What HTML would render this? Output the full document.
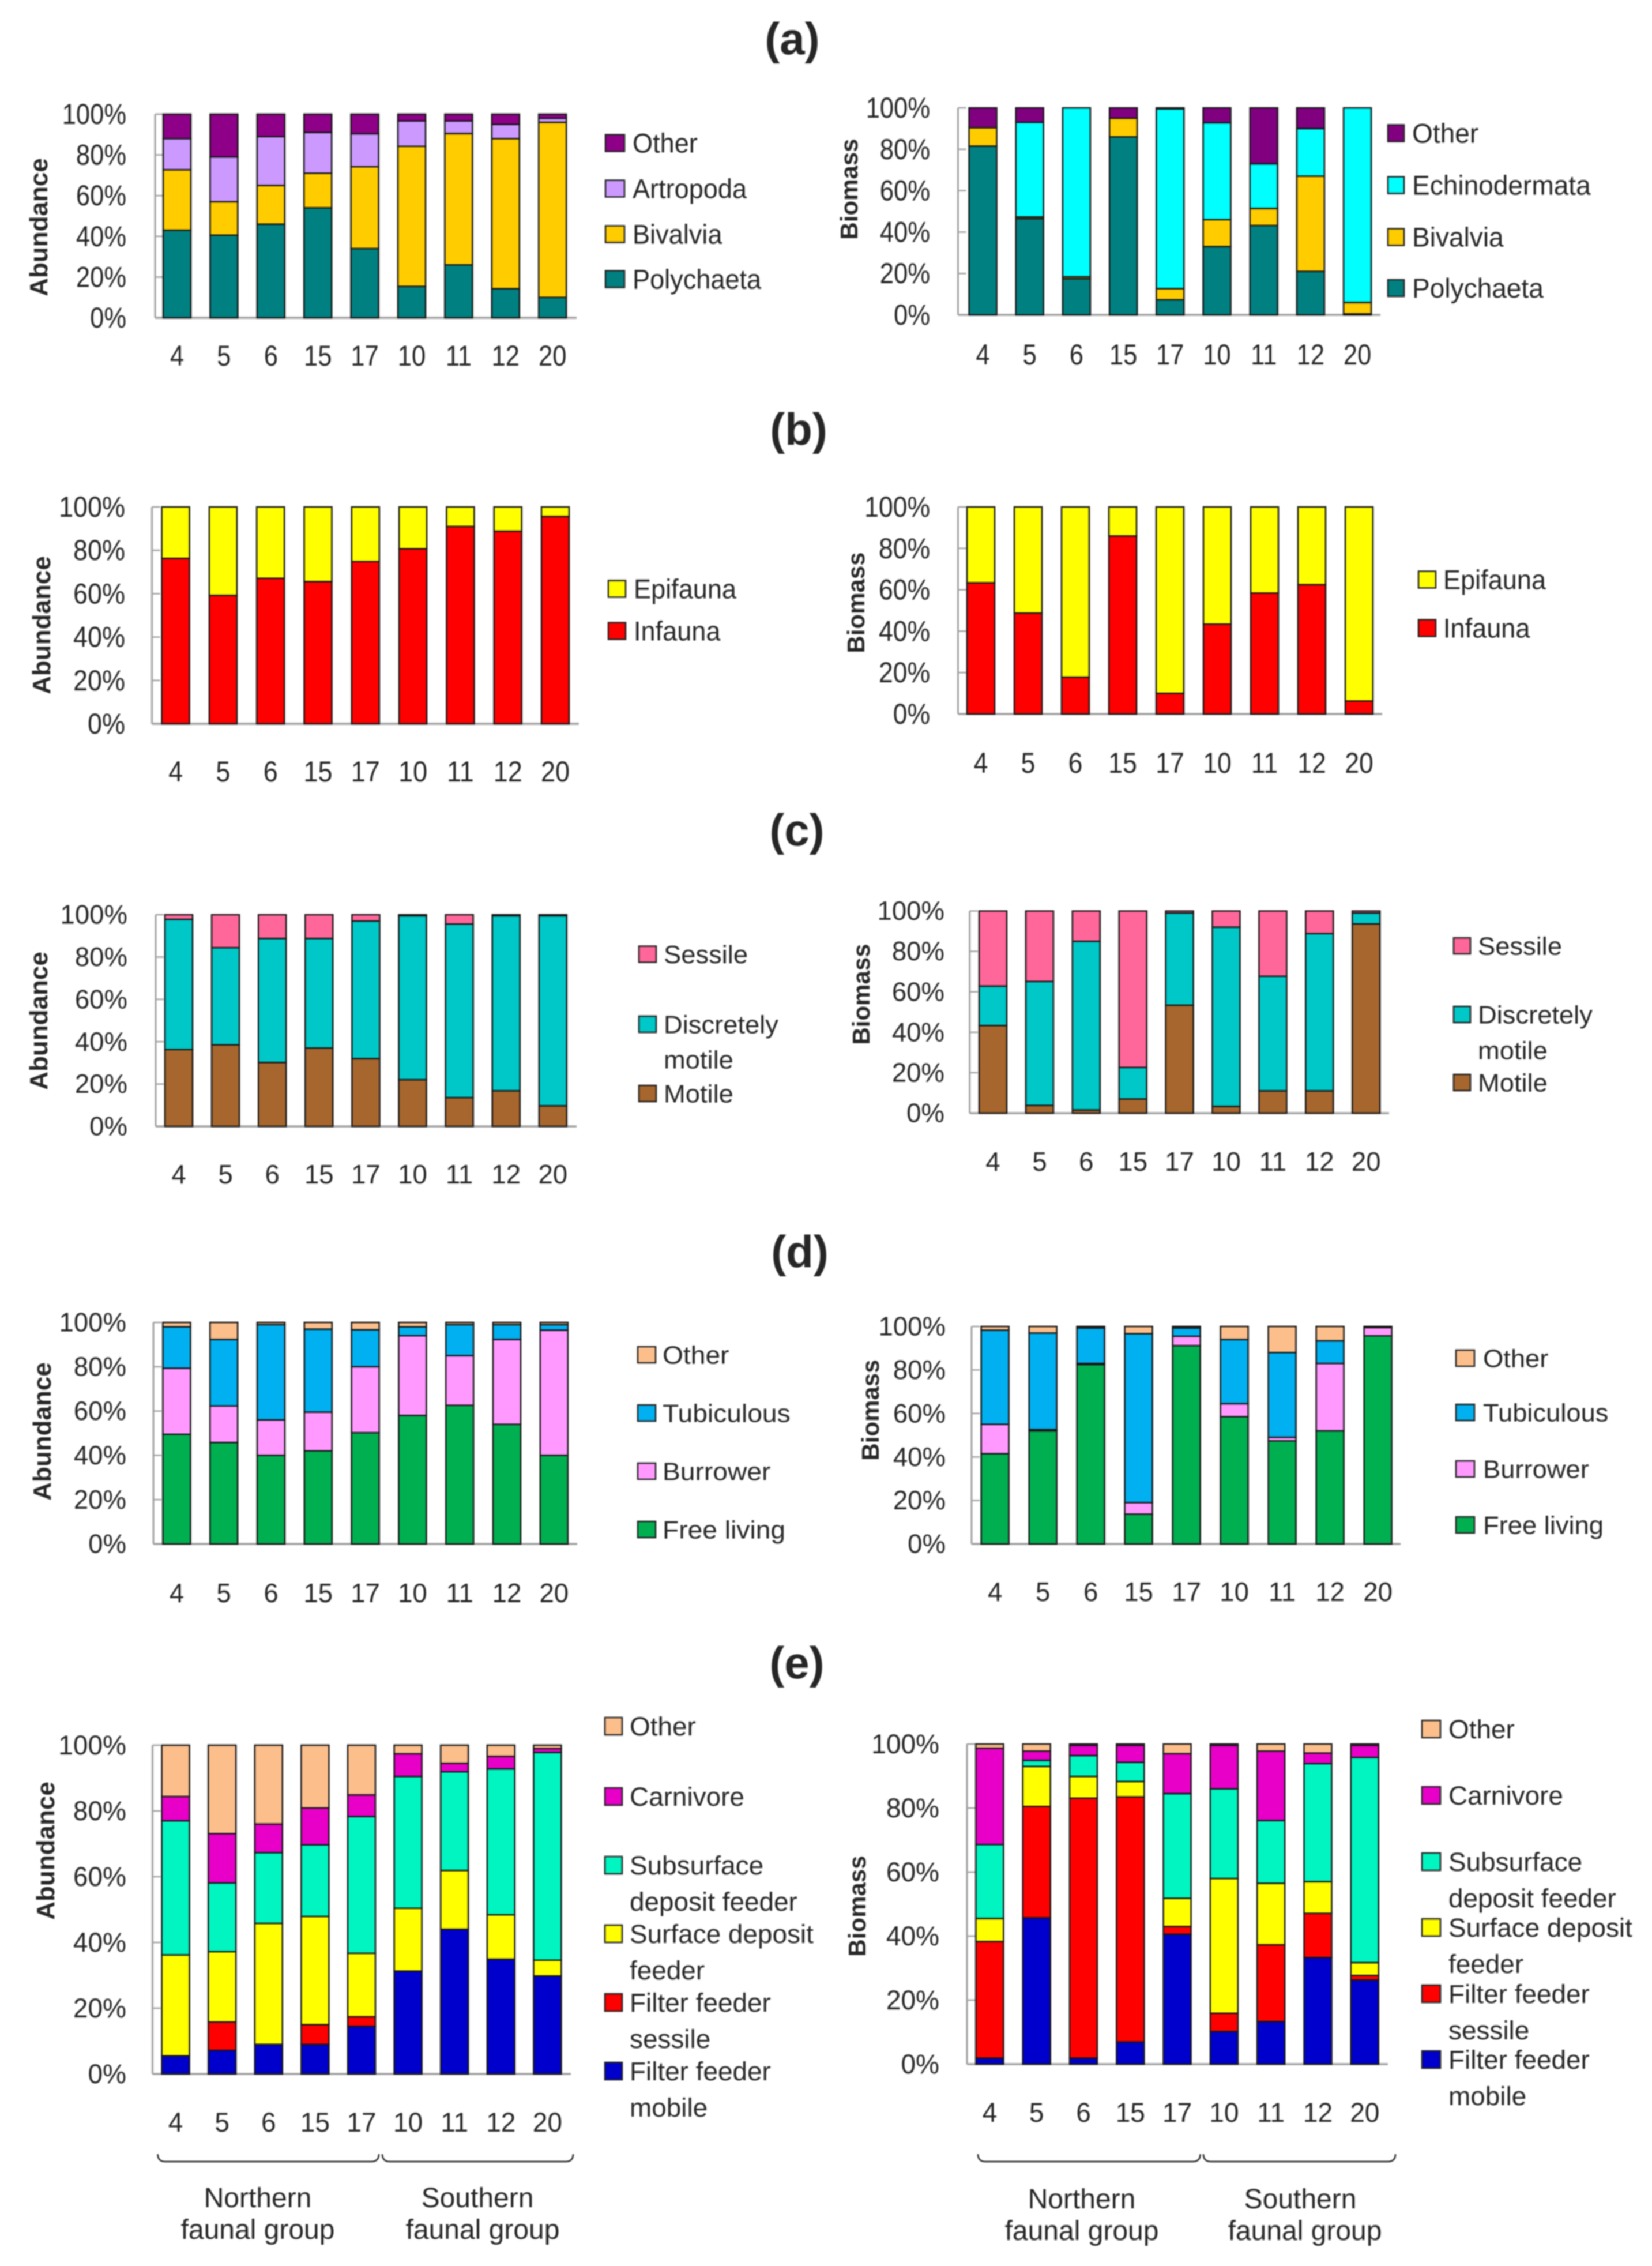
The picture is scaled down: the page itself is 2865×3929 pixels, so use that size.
<!DOCTYPE html>
<html lang="en">
<head>
<meta charset="utf-8">
<title>Faunal composition by station</title>
<style>
html,body{margin:0;padding:0;background:#fff;width:2865px;height:3929px;overflow:hidden}
svg{display:block;filter:blur(1px)}
text{font-family:"Liberation Sans",sans-serif;fill:#262626}
</style>
</head>
<body>
<svg id="figure" xmlns="http://www.w3.org/2000/svg" width="2865" height="3929" viewBox="0 0 2865 3929"></svg>
<script>
const stations = ['4','5','6','15','17','10','11','12','20'];
const percentTicks = [0,20,40,60,80,100];

const aAbundancePolychaeta = [43,40.6,46,54,34,15.4,26,14.3,10];
const aAbundanceBivalvia = [29.7,16.4,19,17,40.2,68.8,64.5,73.7,86];
const aAbundanceArtropoda = [15.3,22,24,20,16.2,12.5,6.2,7,2];
const aAbundanceOther = [12,21,11,9,9.6,3.3,3.3,5,2];

const aBiomassPolychaeta = [81.5,46.5,17.5,86,7.3,33,43.2,21,0.5];
const aBiomassBivalvia = [8.9,0.8,0.9,9,5.4,13,8.2,46,5.5];
const aBiomassEchinodermata = [0,45.7,81.6,0,86.8,46.8,21.6,23,94];
const aBiomassOther = [9.6,7,0,5,0.5,7.2,27,10,0];

const bAbundanceInfauna = [76.3,59.2,67.1,65.6,74.8,80.7,91,88.8,95.6];
const bAbundanceEpifauna = [23.7,40.8,32.9,34.4,25.2,19.3,9,11.2,4.4];

const bBiomassInfauna = [63.4,48.7,17.8,86,10,43.4,58.4,62.5,6.3];
const bBiomassEpifauna = [36.6,51.3,82.2,14,90,56.6,41.6,37.5,93.7];

const cAbundanceMotile = [36.3,38.5,30.2,37,32,22,13.6,16.8,9.7];
const cAbundanceDiscrete = [61.5,45.9,58.6,51.8,65,77.5,82,82.7,89.8];
const cAbundanceSessile = [2.2,15.6,11.2,11.2,3,0.5,4.4,0.5,0.5];

const cBiomassMotile = [43.3,3.8,1.5,7,53.4,3.3,11,11,93.6];
const cBiomassDiscrete = [19.5,61.3,83.5,15.6,45.6,88.7,56.7,77.8,5.4];
const cBiomassSessile = [37.2,34.9,15,77.4,1,8,32.3,11.2,1];

const dAbundanceFree = [49.5,45.8,40,42,50.2,58,62.6,54,40];
const dAbundanceBurrower = [29.8,16.5,16,17.5,29.8,36,22.4,38.3,56.5];
const dAbundanceTubiculous = [18.7,30,43,37.5,16.7,4,14,6.7,2.5];
const dAbundanceOther = [2,7.7,1,3,3.3,2,1,1,1];

const dBiomassFree = [41.5,52,82.5,13.7,91.2,58.5,47.4,52,95.7];
const dBiomassBurrower = [13.5,0.6,0.5,5.3,4.3,6,1.6,31,3.8];
const dBiomassTubiculous = [43.3,44.4,16.3,77.7,3.8,29.5,39,10.4,0];
const dBiomassOther = [1.7,3,0.7,3.3,0.7,6,12,6.6,0.5];

const eAbundanceMobile = [5.5,7.2,9,9,14.5,31.3,44,34.9,29.8];
const eAbundanceSessile = [0,8.6,0,6,2.9,0,0,0,0];
const eAbundanceSurface = [30.7,21.4,36.8,32.9,19.3,19.1,17.9,13.5,4.8];
const eAbundanceSubsurface = [40.8,20.9,21.5,21.8,41.6,40.1,30,44.4,63.2];
const eAbundanceCarnivore = [7.4,15,8.7,11.2,6.6,6.9,2.6,3.8,1.2];
const eAbundanceOther = [15.6,26.9,24,19.1,15.1,2.6,5.5,3.4,1];

const eBiomassMobile = [1.9,45.7,1.9,6.9,40.6,10.2,13.3,33.3,26.3];
const eBiomassSessile = [36.4,34.8,81.2,76.6,2.4,5.7,24,13.8,1.4];
const eBiomassSurface = [7.2,12.5,6.8,4.8,8.8,42.1,19.2,9.9,4];
const eBiomassSubsurface = [23.1,1.9,6.5,6,32.7,28,19.6,36.9,64.1];
const eBiomassCarnivore = [30.1,2.9,3.2,5.3,12.5,13.6,21.7,3.3,3.8];
const eBiomassOther = [1.3,2.2,0.4,0.4,3,0.4,2.2,2.8,0.4];

const C = {teal:'#008080',gold:'#FFCC00',lilac:'#CC99FF',plum:'#8F0088',cyan:'#00FFFF',red:'#FF0000',yellow:'#FFFF00',
  pink:'#FF6699',disc:'#00C8C8',brown:'#A6662D',green:'#00B050',orchid:'#FF99FF',sky:'#00B0F0',peach:'#FCBF8C',
  navy:'#0000CC',mint:'#00F5C0',magenta:'#E800C8'};

const panels = [
 {id:'a-abundance',title:'Abundance',l:269,r:1000,t:198,b:551,x0:307,step:81.4,tickR:219,xBase:634,tx:82,ty:394,tf:44,nf:50,ns:.87,lf:47,ls:.96,swX:1050,swW:33,swH:29,txtX:1097,
  series:[['Polychaeta',aAbundancePolychaeta,C.teal,484],['Bivalvia',aAbundanceBivalvia,C.gold,406],['Artropoda',aAbundanceArtropoda,C.lilac,327],['Other',aAbundanceOther,C.plum,248]]},
 {id:'a-biomass',title:'Biomass',l:1661.5,r:2394,t:187,b:546,x0:1704.5,step:81.2,tickR:1613,xBase:632,tx:1487,ty:328,tf:42,nf:50,ns:.87,lf:47,ls:.98,swX:2407,swW:28,swH:29,txtX:2449,
  series:[['Polychaeta',aBiomassPolychaeta,C.teal,499.5],['Bivalvia',aBiomassBivalvia,C.gold,411],['Echinodermata',aBiomassEchinodermata,C.cyan,321],['Other',aBiomassOther,'#800080',231]]},
 {id:'b-abundance',title:'Abundance',l:263.6,r:1004,t:879,b:1255,x0:304.6,step:82.3,tickR:217,xBase:1355,tx:87,ty:1084,tf:44,nf:50,ns:.9,lf:47,ls:.96,swX:1055,swW:30,swH:29,txtX:1099,
  series:[['Infauna',bAbundanceInfauna,C.red,1094],['Epifauna',bAbundanceEpifauna,C.yellow,1021]]},
 {id:'b-biomass',title:'Biomass',l:1661.5,r:2397,t:879,b:1238,x0:1701,step:82,tickR:1613,xBase:1340,tx:1499,ty:1045,tf:42,nf:50,ns:.89,lf:47,ls:.96,swX:2460,swW:30,swH:29,txtX:2503,
  series:[['Infauna',bBiomassInfauna,C.red,1089],['Epifauna',bBiomassEpifauna,C.yellow,1005]]},
 {id:'c-abundance',title:'Abundance',l:270,r:1000,t:1586,b:1953,x0:310,step:81.1,tickR:221,xBase:2052,tx:82,ty:1770,tf:44,nf:46,ns:.99,lf:44,ls:1.03,swX:1108,swW:30,swH:28,txtX:1151,
  series:[['Motile',cAbundanceMotile,C.brown,1896],[['Discretely','motile'],cAbundanceDiscrete,C.disc,1776,1837],['Sessile',cAbundanceSessile,C.pink,1654.5]]},
 {id:'c-biomass',title:'Biomass',l:1681.7,r:2409,t:1579.5,b:1930,x0:1722,step:80.9,tickR:1638,xBase:2030,tx:1508,ty:1724,tf:42,nf:46,ns:.99,lf:44,ls:1.03,swX:2521,swW:29,swH:28,txtX:2563,
  series:[['Motile',cBiomassMotile,C.brown,1877],[['Discretely','motile'],cBiomassDiscrete,C.disc,1759,1821],['Sessile',cBiomassSessile,C.pink,1640]]},
 {id:'d-abundance',title:'Abundance',l:266,r:1001,t:2293,b:2677,x0:306.4,step:81.8,tickR:219,xBase:2778,tx:88,ty:2482,tf:44,nf:46,ns:.99,lf:44,ls:1.05,swX:1106,swW:31,swH:28,txtX:1149,
  series:[['Free living',dAbundanceFree,C.green,2652],['Burrower',dAbundanceBurrower,C.orchid,2551],['Tubiculous',dAbundanceTubiculous,C.sky,2450],['Other',dAbundanceOther,C.peach,2349]]},
 {id:'d-biomass',title:'Biomass',l:1685,r:2429,t:2300,b:2677,x0:1725.6,step:83,tickR:1640,xBase:2776,tx:1524,ty:2445,tf:42,nf:46,ns:.99,lf:44,ls:1.03,swX:2525,swW:32,swH:28,txtX:2572,
  series:[['Free living',dBiomassFree,C.green,2644],['Burrower',dBiomassBurrower,C.orchid,2547],['Tubiculous',dBiomassTubiculous,C.sky,2449],['Other',dBiomassOther,C.peach,2355]]},
 {id:'e-abundance',title:'Abundance',l:264.5,r:990,t:3026,b:3596,x0:304.6,step:80.6,tickR:219,xBase:3696,tx:94,ty:3209,tf:44,nf:47,ns:.98,lf:45,ls:1.02,swX:1049,swW:30,swH:30,txtX:1092,
  series:[[['Filter feeder','mobile'],eAbundanceMobile,C.navy,3591,3654],[['Filter feeder','sessile'],eAbundanceSessile,C.red,3472,3535],[['Surface deposit','feeder'],eAbundanceSurface,C.yellow,3353,3416],[['Subsurface','deposit feeder'],eAbundanceSubsurface,C.mint,3234,3297],['Carnivore',eAbundanceCarnivore,C.magenta,3115],['Other',eAbundanceOther,C.peach,2993]]},
 {id:'e-biomass',title:'Biomass',l:1677,r:2407,t:3024,b:3579,x0:1716.4,step:81.3,tickR:1629,xBase:3679,tx:1501,ty:3305,tf:42,nf:47,ns:.98,lf:45,ls:1.02,swX:2466,swW:32,swH:30,txtX:2512,
  series:[[['Filter feeder','mobile'],eBiomassMobile,C.navy,3571,3634],[['Filter feeder','sessile'],eBiomassSessile,C.red,3457,3520],[['Surface deposit','feeder'],eBiomassSurface,C.yellow,3342,3405],[['Subsurface','deposit feeder'],eBiomassSubsurface,C.mint,3228,3291],['Carnivore',eBiomassCarnivore,C.magenta,3113],['Other',eBiomassOther,C.peach,2998]]}
];

const panelLetters = [['(a)',1374,94],['(b)',1385,771],['(c)',1382,1466],['(d)',1387,2197],['(e)',1382,2910]];

const braces = [
 ['northern-brace-left',273.6,657],['southern-brace-left',663,994],
 ['northern-brace-right',1696,2081.6],['southern-brace-right',2087,2420]
];
const groupLabels = [
 ['northern-label-left','Northern',447,3827],['northern-sublabel-left','faunal group',447,3882],
 ['southern-label-left','Southern',828,3827],['southern-sublabel-left','faunal group',837,3882],
 ['northern-label-right','Northern',1876,3829],['northern-sublabel-right','faunal group',1876,3884],
 ['southern-label-right','Southern',2255,3829],['southern-sublabel-right','faunal group',2263,3884]
];

const NS = 'http://www.w3.org/2000/svg';
const svg = document.getElementById('figure');

function make(tag, parent, name) {
  const el = document.createElementNS(NS, tag);
  
  
  parent.appendChild(el);
  return el;
}
function label(parent, name, str, x, y, size, anchor, sx, bold) {
  const t = make('text', parent, name);
  t.setAttribute('transform', 'translate(' + x + ' ' + y + ') scale(' + sx + ' 1)');
  t.setAttribute('font-size', size);
  t.setAttribute('text-anchor', anchor);
  if (bold) t.setAttribute('font-weight', 'bold');
  t.textContent = str;
  return t;
}

panelLetters.forEach(function (p) {
  label(svg, 'panel-letter-' + p[0].charAt(1), p[0], p[1], p[2], 78, 'middle', 1, true);
});

panels.forEach(function (p) {
  const g = make('g', svg, 'chart-' + p.id);
  const yScale = function (v) { return p.b - (p.b - p.t) * v / 100; };
  const xScale = function (i) { return p.x0 + p.step * i; };
  const barW = 48;
  const numOff = p.nf * 0.34;
  const legOff = p.lf * 0.35;

  const axisY = make('line', g, 'y-axis');
  axisY.setAttribute('x1', p.l); axisY.setAttribute('x2', p.l);
  axisY.setAttribute('y1', p.t); axisY.setAttribute('y2', p.b);
  axisY.setAttribute('stroke', '#a0a0a0'); axisY.setAttribute('stroke-width', 3);
  const axisX = make('line', g, 'x-axis');
  axisX.setAttribute('x1', p.l); axisX.setAttribute('x2', p.r);
  axisX.setAttribute('y1', p.b); axisX.setAttribute('y2', p.b);
  axisX.setAttribute('stroke', '#a0a0a0'); axisX.setAttribute('stroke-width', 3.5);

  percentTicks.forEach(function (v) {
    const tick = make('line', g, 'y-tick-' + v);
    tick.setAttribute('x1', p.l); tick.setAttribute('x2', p.l + 14);
    tick.setAttribute('y1', yScale(v)); tick.setAttribute('y2', yScale(v));
    tick.setAttribute('stroke', '#a0a0a0'); tick.setAttribute('stroke-width', 2.5);
    label(g, 'y-tick-label-' + v, v + '%', p.tickR, yScale(v) + numOff, p.nf, 'end', p.ns, false);
  });

  stations.forEach(function (s, i) {
    label(g, 'x-tick-label-' + s, s, xScale(i), p.xBase, p.nf, 'middle', p.ns, false);
    let cum = 0;
    p.series.forEach(function (ser) {
      const v = ser[1][i];
      const y1 = yScale(cum + v), y0 = yScale(cum);
      cum += v;
      if (v <= 0) return;
      const r = make('rect', g, 'bar-' + s);
      r.setAttribute('x', xScale(i) - barW / 2);
      r.setAttribute('y', y1);
      r.setAttribute('width', barW);
      r.setAttribute('height', y0 - y1);
      r.setAttribute('fill', ser[2]);
      r.setAttribute('stroke', '#161616');
      r.setAttribute('stroke-width', 2.5);
    });
  });

  const ttl = make('text', g, 'y-axis-title');
  ttl.setAttribute('transform', 'translate(' + p.tx + ' ' + p.ty + ') rotate(-90)');
  ttl.setAttribute('font-size', p.tf);
  ttl.setAttribute('font-weight', 'bold');
  ttl.setAttribute('text-anchor', 'middle');
  ttl.textContent = p.title;

  p.series.forEach(function (ser) {
    const lines = Array.isArray(ser[0]) ? ser[0] : [ser[0]];
    const entry = make('g', g, 'legend-entry');
    const sw = make('rect', entry, 'legend-swatch');
    sw.setAttribute('x', p.swX);
    sw.setAttribute('y', ser[3] - p.swH / 2);
    sw.setAttribute('width', p.swW);
    sw.setAttribute('height', p.swH);
    sw.setAttribute('fill', ser[2]);
    sw.setAttribute('stroke', '#222');
    sw.setAttribute('stroke-width', 2.5);
    label(entry, 'legend-label', lines[0], p.txtX, ser[3] + legOff, p.lf, 'start', p.ls, false);
    if (lines[1]) label(entry, 'legend-label', lines[1], p.txtX, ser[4] + legOff, p.lf, 'start', p.ls, false);
  });
});

braces.forEach(function (b) {
  const path = make('path', svg, b[0]);
  const top = 3735, bot = 3748, x0 = b[1], x1 = b[2];
  path.setAttribute('d', 'M' + x0 + ' ' + top + ' Q' + x0 + ' ' + bot + ' ' + (x0 + 13) + ' ' + bot +
    ' L' + (x1 - 13) + ' ' + bot + ' Q' + x1 + ' ' + bot + ' ' + x1 + ' ' + top);
  path.setAttribute('fill', 'none');
  path.setAttribute('stroke', '#222');
  path.setAttribute('stroke-width', 2.5);
});

groupLabels.forEach(function (g) {
  label(svg, g[0], g[1], g[2], g[3], 48, 'middle', 1, false);
});
</script>
</body>
</html>
